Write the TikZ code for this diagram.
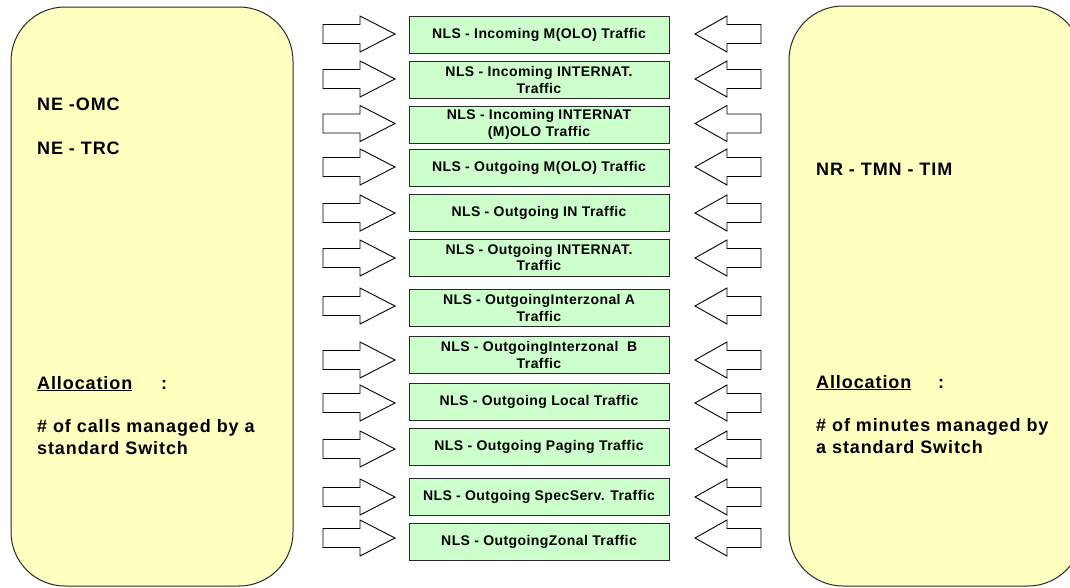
\documentclass[tikz,border=0pt]{standalone}
\usepackage{fontspec}
\setmainfont{Liberation Sans}
\newfontfamily\spacedsans[LetterSpace=3]{Liberation Sans}
\newfontfamily\bigsans[LetterSpace=5]{Liberation Sans}
\definecolor{sideyellow}{RGB}{255,255,192}
\definecolor{nlsgreen}{RGB}{204,255,204}
\definecolor{edge}{RGB}{40,40,40}
\begin{document}
\begin{tikzpicture}[x=1pt,y=-1pt,
  sidebox/.style={draw=edge, line width=1pt, fill=sideyellow, rounded corners=54pt},
  nlsbox/.style={draw=edge, line width=1pt, fill=nlsgreen, minimum width=260pt, minimum height=37pt,
    inner sep=0pt, align=center, font=\spacedsans\bfseries\fontsize{14}{16.5}\selectfont},
  sidetext/.style={anchor=base west, inner sep=0pt,
    font=\bigsans\bfseries\fontsize{18}{21.5}\selectfont},
  arrowline/.style={draw=black, line width=0.9pt, fill=white, line join=miter},
  rarrow/.pic={\path[arrowline] (-36,-9.5) -- (1,-9.5) -- (1,-18) -- (36,0) -- (1,18) -- (1,9.5) -- (-36,9.5) -- cycle;},
  larrow/.pic={\path[arrowline] (33,-9.5) -- (-1,-9.5) -- (-1,-18) -- (-33,0) -- (-1,18) -- (-1,9.5) -- (33,9.5) -- cycle;}
]
\useasboundingbox (0,0) rectangle (1070,587);
\clip (0,0) rectangle (1070,587);
% side boxes
\path[sidebox] (11,7) rectangle (293,586);
\path[sidebox] (789,6) rectangle (1082,586);
\node[sidetext] (omc) at (37,110) {NE -OMC};
\node[sidetext] (trc) at (37,154) {NE - TRC};
\node[sidetext] (allocL) at (37,389) {\underline{Allocation}};
\node[sidetext] (colL) at (161,389) {:};
\node[sidetext] (callsL1) at (37,432.5) {\# of calls managed by a};
\node[sidetext] (callsL2) at (37,454) {standard Switch};
\node[sidetext] (tim) at (816,175) {NR - TMN - TIM};
\node[sidetext] (allocR) at (816,388) {\underline{Allocation}};
\node[sidetext] (colR) at (938,388) {:};
\node[sidetext] (minR1) at (816,431.5) {\# of minutes managed by};
\node[sidetext] (minR2) at (816,453) {a standard Switch};
% NLS boxes
\node[nlsbox] (b1) at (539,35) {NLS - Incoming M(OLO) Traffic};
\node[nlsbox] (b2) at (539,80) {NLS - Incoming INTERNAT.\\Traffic};
\node[nlsbox] (b3) at (539,124.5) {NLS - Incoming INTERNAT\\(M)OLO Traffic};
\node[nlsbox] (b4) at (539,168) {NLS - Outgoing M(OLO) Traffic};
\node[nlsbox] (b5) at (539,212.5) {NLS - Outgoing IN Traffic};
\node[nlsbox] (b6) at (539,257.5) {NLS - Outgoing INTERNAT.\\Traffic};
\node[nlsbox] (b7) at (539,308) {NLS - OutgoingInterzonal A\\Traffic};
\node[nlsbox] (b8) at (539,355) {NLS - OutgoingInterzonal\ \ B\\Traffic};
\node[nlsbox] (b9) at (539,401.5) {NLS - Outgoing Local Traffic};
\node[nlsbox] (b10) at (539,446.5) {NLS - Outgoing Paging Traffic};
\node[nlsbox] (b11) at (539,496.5) {NLS - Outgoing SpecServ. Traffic};
\node[nlsbox] (b12) at (539,541.5) {NLS - OutgoingZonal Traffic};
% arrows
\foreach \yy [count=\i] in {34,79,123.5,167,213,258,306,360,403,449,497,538}{
  \pic (la\i) at (359,\yy) {rarrow};
  \pic (ra\i) at (728,\yy) {larrow};
}
\end{tikzpicture}
\end{document}
